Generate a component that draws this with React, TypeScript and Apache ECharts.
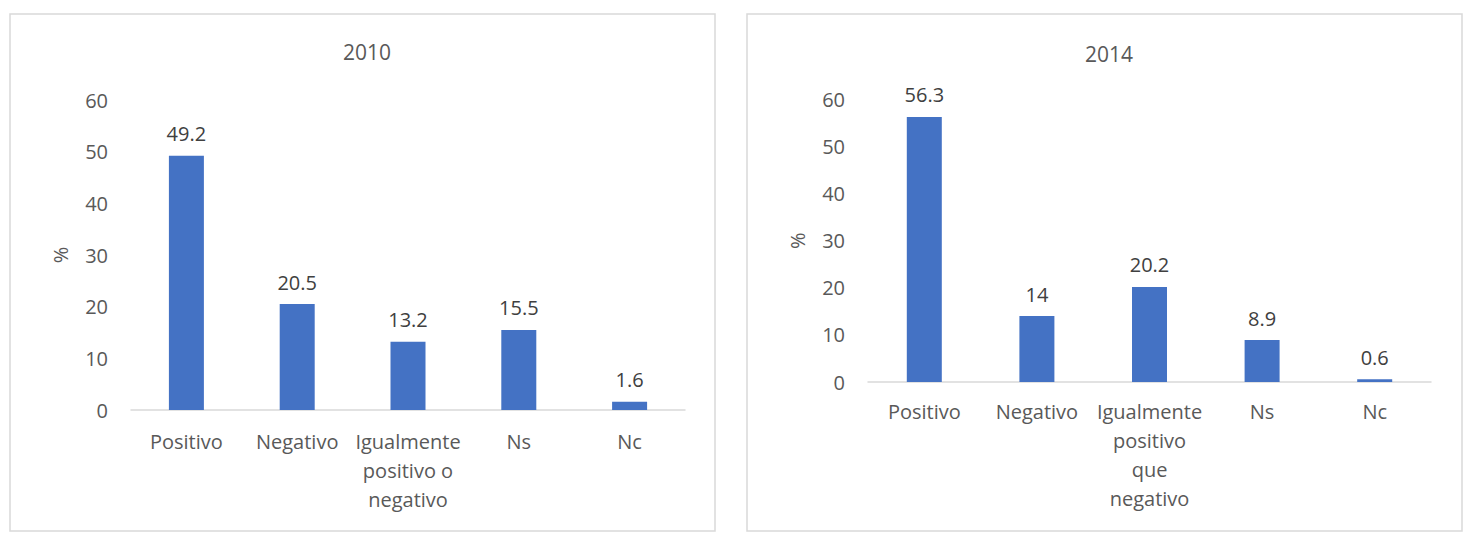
import React, { useEffect, useRef } from "react";
import * as echarts from "echarts";

const categories2010 = ["Positivo", "Negativo", "Igualmente\npositivo o\nnegativo", "Ns", "Nc"];
const values2010 = [49.2, 20.5, 13.2, 15.5, 1.6];
const categories2014 = ["Positivo", "Negativo", "Igualmente\npositivo\nque\nnegativo", "Ns", "Nc"];
const values2014 = [56.3, 14, 20.2, 8.9, 0.6];
const titles = ["2010", "2014"];
const yAxisName = "%";
const yMin = 0;
const yMax = 60;
const yInterval = 10;

const FONT = "'Open Sans', 'Noto Sans', sans-serif";
const GRAY = "#595959";
const BAR = "#4472C4";

export default function App() {
  const ref = useRef<HTMLDivElement>(null);
  useEffect(() => {
    if (!ref.current) return;
    const chart = echarts.init(ref.current, undefined, { renderer: "svg" });
    const grids = [
      { left: 131, top: 100, width: 554, height: 310 },
      { left: 868, top: 99.5, width: 563, height: 282.5 },
    ];
    const cats = [categories2010, categories2014];
    const vals = [values2010, values2014];
    const labelMargins = [17, 15];
    const nameGaps = [61, 61];
    chart.setOption({
      animation: false,
      textStyle: { fontFamily: FONT },
      graphic: [
        {
          type: "rect",
          shape: { x: 10, y: 14, width: 705, height: 517 },
          style: { fill: "#ffffff", stroke: "#d9d9d9", lineWidth: 1.5 },
          z: -10,
        },
        {
          type: "rect",
          shape: { x: 747, y: 14, width: 715, height: 517 },
          style: { fill: "#ffffff", stroke: "#d9d9d9", lineWidth: 1.5 },
          z: -10,
        },
      ],
      title: [
        {
          text: titles[0],
          left: 362,
          top: 36,
          textAlign: "center",
          textStyle: { fontFamily: FONT, fontSize: 21, fontWeight: "normal", color: GRAY },
        },
        {
          text: titles[1],
          left: 1104,
          top: 38,
          textAlign: "center",
          textStyle: { fontFamily: FONT, fontSize: 21, fontWeight: "normal", color: GRAY },
        },
      ],
      grid: grids.map((g) => ({ ...g, containLabel: false })),
      xAxis: [0, 1].map((i) => ({
        type: "category",
        gridIndex: i,
        data: cats[i],
        axisLine: { show: true, lineStyle: { color: "#d9d9d9", width: 1.5 } },
        axisTick: { show: false },
        splitLine: { show: false },
        axisLabel: {
          interval: 0,
          margin: labelMargins[i],
          color: GRAY,
          fontFamily: FONT,
          fontSize: 20,
          lineHeight: 29,
          align: "center",
        },
      })),
      yAxis: [0, 1].map((i) => ({
        type: "value",
        gridIndex: i,
        min: yMin,
        max: yMax,
        interval: yInterval,
        name: yAxisName,
        nameLocation: "middle",
        nameGap: nameGaps[i],
        nameRotate: 90,
        nameTextStyle: { color: GRAY, fontFamily: FONT, fontSize: 20 },
        axisLine: { show: false },
        axisTick: { show: false },
        splitLine: { show: false },
        axisLabel: { margin: 23, color: GRAY, fontFamily: FONT, fontSize: 20 },
      })),
      series: [0, 1].map((i) => ({
        type: "bar",
        xAxisIndex: i,
        yAxisIndex: i,
        data: vals[i],
        barWidth: 35,
        itemStyle: { color: BAR },
        label: {
          show: true,
          position: "top",
          distance: 12,
          color: "#404040",
          fontFamily: FONT,
          fontSize: 20,
        },
      })),
    });
    return () => chart.dispose();
  }, []);
  return (
    <div
      ref={ref}
      style={{ position: "absolute", left: 0, top: 0, width: 1464, height: 554, background: "#ffffff" }}
    />
  );
}
